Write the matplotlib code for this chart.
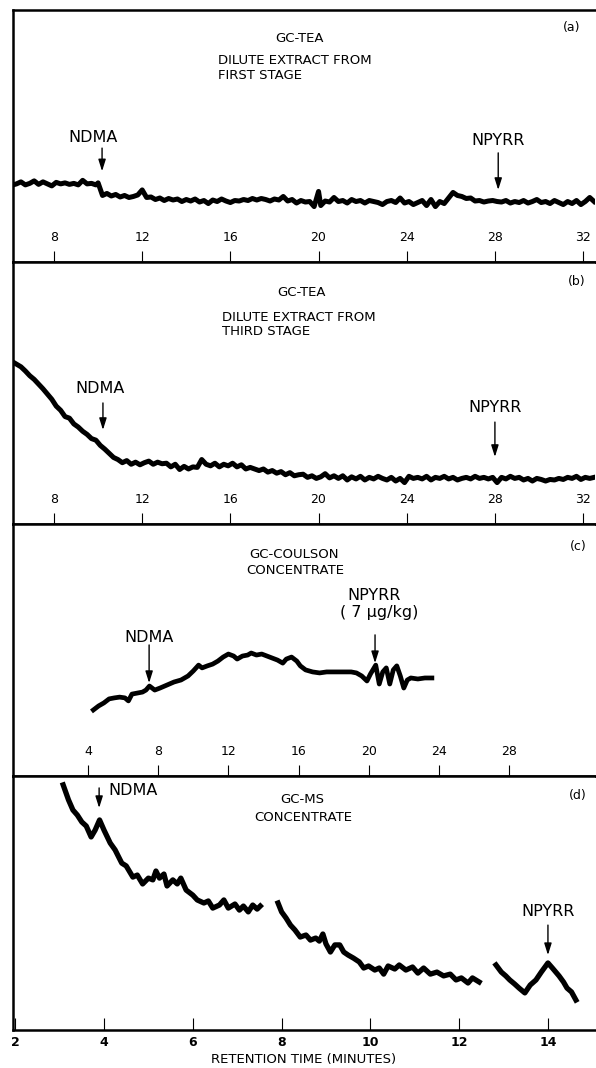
import matplotlib
matplotlib.use("Agg")
import matplotlib.pyplot as plt

plt.rcParams['font.family'] = ['DejaVu Sans']

# ---------------- data (arbitrary detector response, 0-100 scale) ----------------
a_time = [6.1, 6.3, 6.5, 6.7, 6.9, 7.1, 7.3, 7.5, 7.7, 7.9, 8.1, 8.3, 8.5, 8.7, 8.9,
          9.1, 9.3, 9.5, 9.7, 9.9, 10.0, 10.2, 10.4, 10.6, 10.8, 11.0, 11.2, 11.4, 11.6,
          11.8, 12.0, 12.2, 12.4, 12.6, 12.8, 13.0, 13.2, 13.4, 13.6, 13.8, 14.0, 14.2,
          14.4, 14.6, 14.8, 15.0, 15.2, 15.4, 15.6, 15.8, 16.0, 16.2, 16.4, 16.6, 16.8,
          17.0, 17.2, 17.4, 17.6, 17.8, 18.0, 18.2, 18.4, 18.6, 18.8, 19.0, 19.2, 19.4,
          19.6, 19.8, 20.0, 20.1, 20.3, 20.5, 20.7, 20.9, 21.1, 21.3, 21.5, 21.7, 21.9,
          22.1, 22.3, 22.5, 22.7, 22.9, 23.1, 23.3, 23.5, 23.7, 23.9, 24.1, 24.3, 24.5,
          24.7, 24.9, 25.1, 25.3, 25.5, 25.7, 25.9, 26.1, 26.3, 26.5, 26.7, 26.9, 27.1,
          27.3, 27.5, 27.7, 27.9, 28.1, 28.3, 28.5, 28.7, 28.9, 29.1, 29.3, 29.5, 29.7,
          29.9, 30.1, 30.3, 30.5, 30.7, 30.9, 31.1, 31.3, 31.5, 31.7, 31.9, 32.1, 32.3, 32.5]
a_signal = [30.5, 31.0, 31.8, 30.6, 31.2, 32.2, 30.8, 31.8, 31.0, 30.2, 31.6, 31.0, 31.4, 30.8, 31.2,
            30.6, 32.4, 31.0, 31.2, 30.6, 31.4, 26.4, 27.2, 26.2, 26.8, 25.8, 26.4, 25.6, 26.0,
            26.6, 28.6, 25.6, 25.8, 24.8, 25.4, 24.4, 25.2, 24.6, 25.0, 24.0, 24.8, 24.2,
            25.0, 23.8, 24.4, 23.2, 24.6, 24.0, 25.0, 24.2, 23.6, 24.4, 24.2, 24.8, 24.4,
            25.2, 24.6, 25.2, 24.8, 24.2, 25.0, 24.6, 26.0, 24.2, 24.8, 23.4, 24.4, 23.8,
            24.0, 22.0, 28.0, 22.4, 24.2, 23.8, 25.6, 24.0, 24.4, 23.4, 24.8, 24.0, 24.4,
            23.4, 24.4, 24.0, 23.6, 22.8, 24.0, 24.4, 23.6, 25.4, 23.4, 24.0, 22.8, 23.6,
            24.4, 22.4, 24.8, 22.0, 24.0, 23.2, 25.4, 27.6, 26.4, 26.0, 25.2, 25.4, 24.2,
            24.4, 23.8, 24.2, 24.4, 24.0, 23.8, 24.4, 23.4, 24.0, 23.6, 24.4, 23.4, 24.0,
            24.8, 23.6, 24.0, 23.2, 24.4, 23.6, 22.8, 24.0, 23.2, 24.4, 22.8, 24.0, 25.6, 24.0]

b_time = [6.1, 6.3, 6.5, 6.7, 6.9, 7.1, 7.3, 7.5, 7.7, 7.9, 8.1, 8.3, 8.5, 8.7, 8.9,
          9.1, 9.3, 9.5, 9.7, 9.9, 10.1, 10.3, 10.5, 10.7, 10.9, 11.1, 11.3, 11.5, 11.7,
          11.9, 12.1, 12.3, 12.5, 12.7, 12.9, 13.1, 13.3, 13.5, 13.7, 13.9, 14.1, 14.3,
          14.5, 14.7, 14.9, 15.1, 15.3, 15.5, 15.7, 15.9, 16.1, 16.3, 16.5, 16.7, 16.9,
          17.1, 17.3, 17.5, 17.7, 17.9, 18.1, 18.3, 18.5, 18.7, 18.9, 19.1, 19.3, 19.5,
          19.7, 19.9, 20.1, 20.3, 20.5, 20.7, 20.9, 21.1, 21.3, 21.5, 21.7, 21.9, 22.1,
          22.3, 22.5, 22.7, 22.9, 23.1, 23.3, 23.5, 23.7, 23.9, 24.1, 24.3, 24.5, 24.7,
          24.9, 25.1, 25.3, 25.5, 25.7, 25.9, 26.1, 26.3, 26.5, 26.7, 26.9, 27.1, 27.3,
          27.5, 27.7, 27.9, 28.1, 28.3, 28.5, 28.7, 28.9, 29.1, 29.3, 29.5, 29.7, 29.9,
          30.1, 30.3, 30.5, 30.7, 30.9, 31.1, 31.3, 31.5, 31.7, 31.9, 32.1, 32.3, 32.5]
b_signal = [62.0, 61.0, 60.0, 58.4, 56.6, 55.2, 53.4, 51.6, 49.6, 47.6, 45.0, 43.4, 41.0, 40.4, 38.2,
            37.0, 35.4, 34.2, 32.6, 32.0, 30.0, 28.6, 27.0, 25.4, 24.6, 23.4, 24.2, 22.8, 23.6,
            22.6, 23.4, 24.0, 22.8, 23.6, 23.0, 23.2, 21.8, 22.8, 20.8, 22.0, 21.0, 21.8,
            21.6, 24.6, 22.8, 22.2, 23.2, 21.8, 22.8, 22.2, 23.2, 21.8, 22.6, 21.0, 21.6,
            21.0, 20.4, 21.0, 19.8, 20.4, 19.4, 20.0, 18.8, 19.6, 18.4, 18.8, 19.0, 17.8,
            18.4, 17.4, 18.0, 19.2, 17.6, 18.4, 17.4, 18.4, 16.8, 18.0, 17.2, 18.2, 16.8,
            17.8, 17.2, 18.2, 17.4, 16.8, 17.8, 16.4, 17.4, 15.8, 18.2, 17.4, 17.8, 17.2,
            18.2, 16.8, 17.8, 17.4, 18.2, 17.2, 17.8, 16.8, 17.4, 17.8, 17.2, 18.2, 17.4,
            17.8, 17.2, 17.8, 15.8, 17.8, 17.2, 18.2, 17.4, 17.8, 16.8, 17.4, 16.4, 17.4,
            17.0, 16.4, 17.0, 16.8, 17.4, 17.0, 17.8, 17.4, 18.2, 17.0, 17.8, 17.4, 17.8]

c_time = [4.3, 4.6, 4.9, 5.2, 5.5, 5.8, 6.1, 6.3, 6.5, 6.8, 7.1, 7.3, 7.5, 7.8, 8.1, 8.5,
          8.9, 9.3, 9.7, 10.0, 10.3, 10.5, 10.8, 11.1, 11.4, 11.7, 12.0, 12.3, 12.5, 12.8,
          13.1, 13.3, 13.6, 13.9, 14.2, 14.5, 14.8, 15.1, 15.3, 15.6, 15.9, 16.1, 16.4,
          16.8, 17.2, 17.6, 18.0, 18.5, 19.0, 19.3, 19.6, 19.9, 20.1, 20.4, 20.6, 20.8,
          21.0, 21.2, 21.4, 21.6, 21.8, 22.0, 22.2, 22.4, 22.8, 23.2, 23.6]
c_signal = [26.2, 27.8, 29.0, 30.6, 31.0, 31.3, 31.0, 29.8, 32.5, 32.9, 33.3, 34.1, 35.7, 34.1, 34.9, 36.1,
            37.3, 38.1, 39.7, 41.7, 44.0, 42.9, 43.7, 44.4, 45.6, 47.2, 48.4, 47.6, 46.4, 47.6,
            48.0, 48.8, 48.0, 48.4, 47.6, 46.8, 46.0, 44.8, 46.4, 47.2, 45.6, 43.7, 42.1,
            41.3, 40.9, 41.3, 41.3, 41.3, 41.3, 40.9, 39.7, 37.7, 40.5, 44.0, 36.5, 41.3,
            42.9, 36.5, 42.1, 43.7, 39.7, 34.9, 38.1, 38.9, 38.5, 38.9, 38.9]

d1_time = [3.08, 3.2, 3.3, 3.4, 3.5, 3.6, 3.71, 3.8, 3.9, 4.0, 4.14, 4.25, 4.4, 4.5, 4.65,
           4.75, 4.87, 5.0, 5.1, 5.17, 5.25, 5.35, 5.42, 5.55, 5.65, 5.73, 5.85, 6.0, 6.1,
           6.25, 6.35, 6.45, 6.6, 6.7, 6.8, 6.95, 7.05, 7.14, 7.25, 7.35, 7.45, 7.52]
d1_signal = [96.5, 90.6, 86.6, 84.6, 81.9, 80.3, 76.0, 78.7, 82.7, 78.7, 73.6, 70.9, 65.7, 64.6, 60.2,
             61.0, 57.5, 59.8, 59.1, 62.6, 59.8, 61.4, 56.7, 59.1, 57.5, 59.8, 55.1, 53.1, 51.2,
             50.0, 50.8, 48.0, 49.2, 51.2, 48.0, 49.6, 47.2, 48.8, 46.5, 49.2, 47.6, 48.8]
d2_time = [7.92, 8.0, 8.1, 8.2, 8.3, 8.42, 8.55, 8.65, 8.77, 8.85, 8.93, 9.0, 9.1, 9.2, 9.31,
           9.4, 9.5, 9.62, 9.75, 9.85, 9.96, 10.1, 10.2, 10.3, 10.4, 10.55, 10.65, 10.8, 10.95,
           11.07, 11.2, 11.35, 11.5, 11.65, 11.8, 11.93, 12.05, 12.2, 12.3, 12.45]
d2_signal = [50.0, 46.5, 44.1, 41.3, 39.4, 36.6, 37.4, 35.4, 36.2, 35.0, 37.8, 33.9, 30.7, 33.5, 33.5,
             30.7, 29.5, 28.3, 26.8, 24.4, 25.2, 23.6, 24.4, 22.0, 25.2, 24.0, 25.6, 23.6, 24.8,
             22.4, 24.4, 22.0, 22.8, 21.3, 22.0, 19.7, 20.5, 18.5, 20.5, 18.9]
d3_time = [12.83, 12.95, 13.05, 13.14, 13.25, 13.35, 13.48, 13.6, 13.73, 13.85, 13.95, 14.0,
           14.1, 14.25, 14.35, 14.43, 14.53, 14.63]
d3_signal = [25.6, 22.8, 21.3, 19.7, 18.1, 16.5, 14.6, 17.7, 19.7, 22.8, 25.2, 26.4,
             24.4, 21.3, 18.9, 16.5, 15.0, 11.8]

ab_ticks = [8, 12, 16, 20, 24, 28, 32]
c_ticks = [4, 8, 12, 16, 20, 24, 28]
d_ticks = [2, 4, 6, 8, 10, 12, 14]

# ---------------- figure ----------------
fig = plt.figure(figsize=(5.96, 10.68), dpi=100)
L, W = 13 / 596, 582 / 596


def make_ax(top_px, bot_px):
    return fig.add_axes([L, 1 - bot_px / 1068, W, (bot_px - top_px) / 1068])


axa = make_ax(10, 262)
axb = make_ax(262, 524)
axc = make_ax(524, 776)
axd = make_ax(776, 1030)

for ax in (axa, axb, axc, axd):
    ax.set_ylim(0, 100)
    ax.set_yticks([])
    ax.spines['right'].set_visible(False)
    for s in ('left', 'bottom', 'top'):
        ax.spines[s].set_linewidth(1.8)
    ax.set_facecolor('white')

inner_tick = dict(direction='in', length=8, width=0.8, pad=-22, labelsize=9)

axa.set_xlim(6.14, 32.54)
axb.set_xlim(6.14, 32.54)
axc.set_xlim(-0.28, 32.9)
axd.set_xlim(1.95, 15.06)
for ax, ticks in ((axa, ab_ticks), (axb, ab_ticks), (axc, c_ticks)):
    ax.set_xticks(ticks)
    ax.tick_params(axis='x', **inner_tick)

axd.set_xticks(d_ticks)
axd.tick_params(axis='x', direction='in', length=8.5, width=0.8, pad=4, labelsize=9)
for lab in axd.get_xticklabels():
    lab.set_fontweight('bold')
axd.set_xlabel('RETENTION TIME (MINUTES)', fontsize=9.5, labelpad=3)

# traces (thick pen strokes)
axa.plot(a_time, a_signal, color='k', lw=3.6)
axb.plot(b_time, b_signal, color='k', lw=3.6)
axc.plot(c_time, c_signal, color='k', lw=3.4)
for t, s in ((d1_time, d1_signal), (d2_time, d2_signal), (d3_time, d3_signal)):
    axd.plot(t, s, color='k', lw=3.8)


def txt(ax, x, y, s, ha='center', size=9.5, **kw):
    ax.text(x, y, s, transform=ax.transAxes, ha=ha, va='center', fontsize=size, **kw)


txt(axa, 0.960, 0.929, '(a)', size=9)
txt(axa, 0.493, 0.885, 'GC-TEA')
txt(axa, 0.352, 0.800, 'DILUTE EXTRACT FROM', ha='left')
txt(axa, 0.352, 0.742, 'FIRST STAGE', ha='left')

txt(axb, 0.969, 0.924, '(b)', size=9)
txt(axb, 0.495, 0.885, 'GC-TEA')
txt(axb, 0.359, 0.790, 'DILUTE EXTRACT FROM', ha='left')
txt(axb, 0.359, 0.733, 'THIRD STAGE', ha='left')

txt(axc, 0.971, 0.909, '(c)', size=9)
txt(axc, 0.483, 0.877, 'GC-COULSON')
txt(axc, 0.485, 0.817, 'CONCENTRATE')

txt(axd, 0.971, 0.925, '(d)', size=9)
txt(axd, 0.497, 0.906, 'GC-MS')
txt(axd, 0.498, 0.835, 'CONCENTRATE')

# peak annotations
arrow = dict(arrowstyle='-|>,head_length=0.7,head_width=0.22', lw=1.0, color='k',
             shrinkA=0, shrinkB=0, mutation_scale=10)


def peak(ax, x, y_tail, y_tip):
    ax.annotate('', xy=(x, y_tip), xytext=(x, y_tail), arrowprops=arrow)


lbl = dict(ha='center', va='center', fontsize=11.5)

axa.text(9.75, 49.6, 'NDMA', **lbl)
peak(axa, 10.18, 45.2, 36.0)
axa.text(28.15, 48.4, 'NPYRR', **lbl)
peak(axa, 28.15, 43.3, 28.6)

axb.text(10.1, 51.9, 'NDMA', **lbl)
peak(axb, 10.22, 46.2, 35.9)
axb.text(28.0, 44.3, 'NPYRR', **lbl)
peak(axb, 28.0, 38.9, 25.6)

axc.text(7.48, 54.8, 'NDMA', **lbl)
peak(axc, 7.48, 52.0, 36.9)
axc.text(20.3, 71.8, 'NPYRR', **lbl)
axc.text(20.6, 64.7, '( 7 μg/kg)', **lbl)
peak(axc, 20.36, 56.0, 44.8)

axd.text(4.09, 94.1, 'NDMA', ha='left', va='center', fontsize=11.5)
peak(axd, 3.89, 95.3, 87.4)
axd.text(14.0, 46.5, 'NPYRR', **lbl)
peak(axd, 14.0, 41.3, 29.5)

fig.savefig('out.png', dpi=100, facecolor='white')
